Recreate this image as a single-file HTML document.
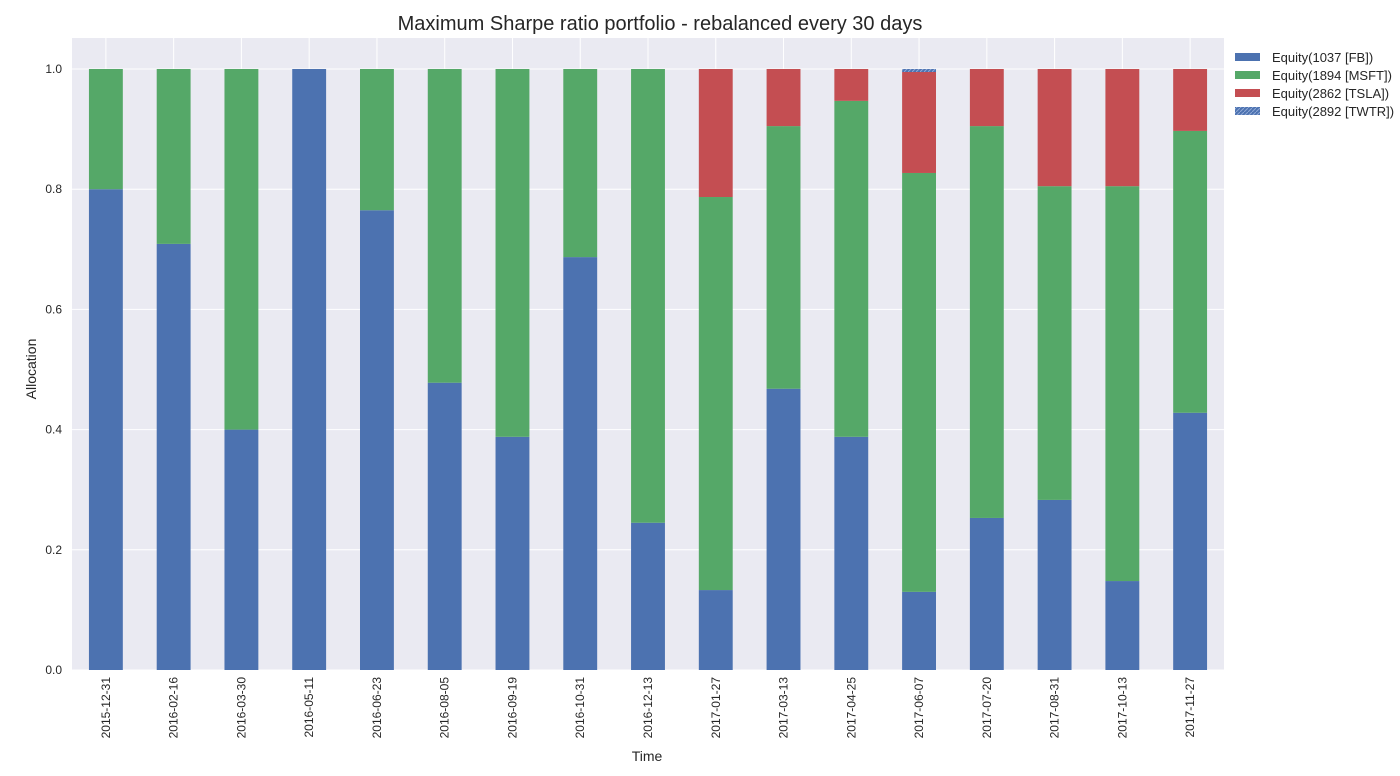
<!DOCTYPE html>
<html><head><meta charset="utf-8"><style>
html,body{margin:0;padding:0;background:#fff;}
svg{display:block;font-family:"Liberation Sans",Arial,sans-serif;}
</style></head><body>
<svg id="chart" width="1400" height="776" xmlns="http://www.w3.org/2000/svg">
<defs><pattern id="hatch" width="4" height="4" patternUnits="userSpaceOnUse"><rect width="4" height="4" fill="#4C72B0"/><path d="M0,4 L4,0" stroke="#8fa8d6" stroke-width="1"/></pattern></defs>
<rect x="72" y="38" width="1152" height="632" fill="#EAEAF2"/>
<g id="grid"></g><g id="bars"></g><g id="axes"></g>
<text x="660" y="30" text-anchor="middle" font-size="20" fill="#262626">Maximum Sharpe ratio portfolio - rebalanced every 30 days</text>
<text x="647" y="761" text-anchor="middle" font-size="14" fill="#262626">Time</text>
<text transform="translate(36,369) rotate(-90)" text-anchor="middle" font-size="14" fill="#262626">Allocation</text>
<g id="legend"></g>
</svg>
<script>
const categories=["2015-12-31","2016-02-16","2016-03-30","2016-05-11","2016-06-23","2016-08-05","2016-09-19","2016-10-31","2016-12-13","2017-01-27","2017-03-13","2017-04-25","2017-06-07","2017-07-20","2017-08-31","2017-10-13","2017-11-27"];
const fb  =[0.80,0.709,0.40,1.0,0.765,0.478,0.388,0.687,0.245,0.133,0.468,0.388,0.130,0.253,0.283,0.148,0.428];
const msft=[0.20,0.291,0.60,0.0,0.235,0.522,0.612,0.313,0.755,0.654,0.437,0.559,0.697,0.652,0.522,0.657,0.469];
const tsla=[0,0,0,0,0,0,0,0,0,0.213,0.095,0.053,0.168,0.095,0.195,0.195,0.103];
const twtr=[0,0,0,0,0,0,0,0,0,0,0,0,0.005,0,0,0,0];
const seriesNames=["Equity(1037 [FB])","Equity(1894 [MSFT])","Equity(2862 [TSLA])","Equity(2892 [TWTR])"];
const yTicks=[0,0.2,0.4,0.6,0.8,1.0];
const NS="http://www.w3.org/2000/svg";
const L=72,R=1224,Y0=670,Y1=69;
const step=(R-L)/categories.length;
const x=i=>L+step*(i+0.5);
const y=v=>Y0-(Y0-Y1)*v;
function mk(tag,at,parent){const e=document.createElementNS(NS,tag);for(const k in at)e.setAttribute(k,at[k]);document.getElementById(parent).appendChild(e);return e;}
yTicks.forEach(t=>{
 const g=mk('line',{x1:L,x2:R,y1:y(t),y2:y(t),stroke:'#fff','stroke-width':1},'grid');
 
 
 const tx=mk('text',{x:62,y:y(t)+4,'text-anchor':'end','font-size':12,fill:'#262626'},'axes');
 tx.textContent=t.toFixed(1);
 
 
});
const series=[[fb,'#4C72B0'],[msft,'#55A868'],[tsla,'#C44E52'],[twtr,'url(#hatch)']];
categories.forEach((c,i)=>{
 const g=mk('line',{x1:x(i),x2:x(i),y1:38,y2:670,stroke:'#fff','stroke-width':1},'grid');
 
 
 let cum=0;
 series.forEach(([arr,col],s)=>{
  const v=arr[i]; if(v<=0){return;}
  const r=mk('rect',{x:x(i)-step*0.25,width:step*0.5,y:y(cum+v),height:y(cum)-y(cum+v),fill:col},'bars');
  
  
  cum+=v;
 });
 const tx=mk('text',{transform:`translate(${x(i)+4},677) rotate(-90)`,'text-anchor':'end','font-size':12,fill:'#262626'},'axes');
 tx.textContent=c;
 
 
});
seriesNames.forEach((n,k)=>{
 const cy=57+18*k;
 const r=mk('rect',{x:1235,y:cy-4,width:25,height:8,fill:series[k][1]},'legend');
 
 
 const t=mk('text',{x:1272,y:cy+5,'font-size':13,fill:'#262626'},'legend');
 t.textContent=n;
 
 
});
</script>
</body></html>
